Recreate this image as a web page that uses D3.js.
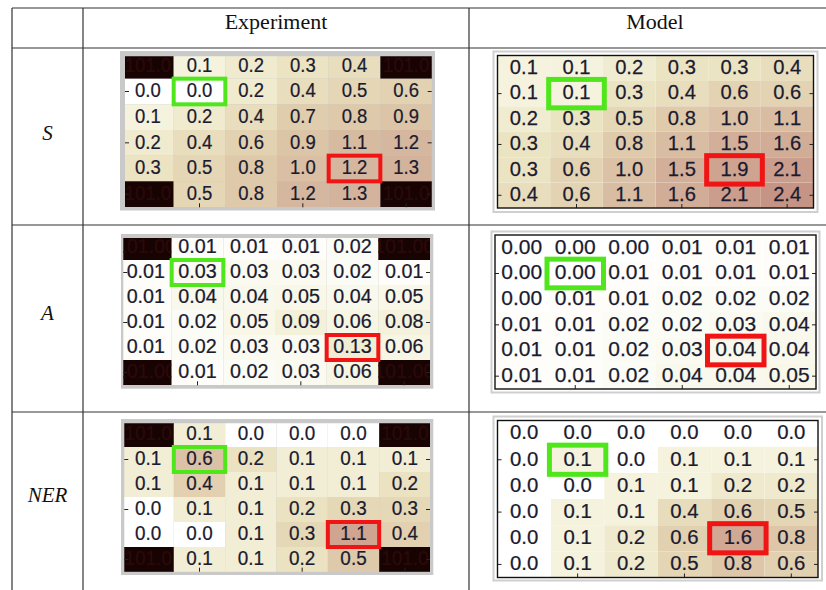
<!DOCTYPE html>
<html>
<head>
<meta charset="utf-8">
<script src="https://cdn.jsdelivr.net/npm/d3@7"></script>
<style>
  html, body { margin: 0; padding: 0; background: #fff; }
  svg { display: block; }
</style>
</head>
<body>
<svg id="chart" width="826" height="590"></svg>
<script>
// ---- Headings ----
const columnTitles = ["Experiment", "Model"];
const rowTitles = ["S", "A", "NER"];

// ---- 6x6 grids (rows top to bottom). 101 fills the unused corner positions of the measured grids ----
const sExperiment = [
  [101, 0.1, 0.2, 0.3, 0.4, 101],
  [0.0, 0.0, 0.2, 0.4, 0.5, 0.6],
  [0.1, 0.2, 0.4, 0.7, 0.8, 0.9],
  [0.2, 0.4, 0.6, 0.9, 1.1, 1.2],
  [0.3, 0.5, 0.8, 1.0, 1.2, 1.3],
  [101, 0.5, 0.8, 1.2, 1.3, 101]
];
const sModel = [
  [0.1, 0.1, 0.2, 0.3, 0.3, 0.4],
  [0.1, 0.1, 0.3, 0.4, 0.6, 0.6],
  [0.2, 0.3, 0.5, 0.8, 1.0, 1.1],
  [0.3, 0.4, 0.8, 1.1, 1.5, 1.6],
  [0.3, 0.6, 1.0, 1.5, 1.9, 2.1],
  [0.4, 0.6, 1.1, 1.6, 2.1, 2.4]
];
const aExperiment = [
  [101, 0.01, 0.01, 0.01, 0.02, 101],
  [0.01, 0.03, 0.03, 0.03, 0.02, 0.01],
  [0.01, 0.04, 0.04, 0.05, 0.04, 0.05],
  [0.01, 0.02, 0.05, 0.09, 0.06, 0.08],
  [0.01, 0.02, 0.03, 0.03, 0.13, 0.06],
  [101, 0.01, 0.02, 0.03, 0.06, 101]
];
const aModel = [
  [0.00, 0.00, 0.00, 0.01, 0.01, 0.01],
  [0.00, 0.00, 0.01, 0.01, 0.01, 0.01],
  [0.00, 0.01, 0.01, 0.02, 0.02, 0.02],
  [0.01, 0.01, 0.02, 0.02, 0.03, 0.04],
  [0.01, 0.01, 0.02, 0.03, 0.04, 0.04],
  [0.01, 0.01, 0.02, 0.04, 0.04, 0.05]
];
const nerExperiment = [
  [101, 0.1, 0.0, 0.0, 0.0, 101],
  [0.1, 0.6, 0.2, 0.1, 0.1, 0.1],
  [0.1, 0.4, 0.1, 0.1, 0.1, 0.2],
  [0.0, 0.1, 0.1, 0.2, 0.3, 0.3],
  [0.0, 0.0, 0.1, 0.3, 1.1, 0.4],
  [101, 0.1, 0.1, 0.2, 0.5, 101]
];
const nerModel = [
  [0.0, 0.0, 0.0, 0.0, 0.0, 0.0],
  [0.0, 0.1, 0.0, 0.1, 0.1, 0.1],
  [0.0, 0.0, 0.1, 0.1, 0.2, 0.2],
  [0.0, 0.1, 0.1, 0.4, 0.6, 0.5],
  [0.0, 0.1, 0.2, 0.6, 1.6, 0.8],
  [0.0, 0.1, 0.2, 0.5, 0.8, 0.6]
];

// Number format per table row, and upper end of each map's colour range
const valueFormats = [".1f", ".2f", ".1f"];
const colorMax = [[2.4, 2.5], [1.8, 1.8], [1.5, 2.3]];

// Cells outlined in every map: [row, column]
const greenCell = [1, 1];
const redCell = [4, 4];

// ---- Colour ramp (white -> tan -> dusty pink), values above the range turn near-black ----
const rampStops = [0, 0.04, 0.12, 0.22, 0.34, 0.5, 0.62, 0.8, 0.96, 1];
const rampColors = ["#ffffff", "#f5f3de", "#ebe4c3", "#e4d5b4", "#dec8aa",
                    "#d5b69e", "#d2ae98", "#cda08e", "#c69485", "#c49082"];
const overflowColor = "#180303";

// ---- Layout ----
const svg = d3.select("#chart");
const W = 826, H = 590;
const lineColor = "#333";

const grids = [[sExperiment, sModel], [aExperiment, aModel], [nerExperiment, nerModel]];

// Placement of each map: grid = cell area, clip = visible window, frame = surround,
// sx = horizontal squeeze of the cell numbers
const panelLayout = [
  { r: 0, c: 0, kind: "exp",   grid: [122, 53, 310, 154],       clip: [125, 56.3, 306.7, 151],     frame: [120, 51, 315, 159.5],   sx: 0.88 },
  { r: 0, c: 1, kind: "model", grid: [497.5, 55.5, 316, 152.5], clip: [497.5, 55.5, 316, 152.5],   frame: [493.5, 51.5, 324, 160.5], sx: 0.96 },
  { r: 1, c: 0, kind: "exp",   grid: [120, 235, 310, 150],      clip: [123.3, 238, 306.7, 147.3],  frame: [121, 234, 312.3, 154.7], sx: 0.94 },
  { r: 1, c: 1, kind: "model", grid: [495, 235, 321, 154],      clip: [495, 235, 321, 154],        frame: [491.5, 231.5, 328, 161], sx: 1.0 },
  { r: 2, c: 0, kind: "exp",   grid: [122.5, 422, 308, 150],    clip: [124.3, 423.3, 305.7, 148.4], frame: [121, 419, 312.3, 156], sx: 0.9 },
  { r: 2, c: 1, kind: "model", grid: [497.5, 420.5, 320.5, 157], clip: [497.5, 420.5, 320.5, 157], frame: [493.5, 416.5, 328.5, 164], sx: 0.97 }
];

// ---- Table rules ----
const rules = svg.append("g").attr("stroke", lineColor).attr("stroke-width", 1.2);
[8, 48, 225, 412].forEach(y => rules.append("line").attr("x1", 12).attr("x2", W).attr("y1", y).attr("y2", y));
[12, 83, 469].forEach(x => rules.append("line").attr("x1", x).attr("x2", x).attr("y1", 8).attr("y2", H));

// ---- Headings ----
const serif = "'Liberation Serif', 'Times New Roman', serif";
svg.selectAll("text.coltitle").data(columnTitles).join("text")
  .attr("class", "coltitle")
  .attr("x", (d, i) => [276, 655][i]).attr("y", 29)
  .attr("text-anchor", "middle")
  .attr("font-family", serif).attr("font-size", 22).attr("fill", "#111")
  .text(d => d);

svg.selectAll("text.rowtitle").data(rowTitles).join("text")
  .attr("class", "rowtitle")
  .attr("x", 47.5).attr("y", (d, i) => [139.5, 319.5, 501.5][i])
  .attr("text-anchor", "middle")
  .attr("font-family", serif).attr("font-style", "italic").attr("font-size", 21).attr("fill", "#111")
  .text(d => d);

// ---- Heat maps ----
const defs = svg.append("defs");
const sans = "'Liberation Sans', Arial, sans-serif";

panelLayout.forEach((p, pi) => {
  const data = grids[p.r][p.c];
  const vmax = colorMax[p.r][p.c];
  const fmt = d3.format(valueFormats[p.r]);
  const ramp = d3.scaleLinear()
    .domain(rampStops.map(s => s * vmax))
    .range(rampColors)
    .interpolate(d3.interpolateRgb)
    .clamp(true);
  const fill = v => (v > vmax ? overflowColor : ramp(v));

  const [gx, gy, gw, gh] = p.grid;
  const [cx, cy, cw, ch] = p.clip;
  const x = d3.scaleBand().domain(d3.range(6)).range([gx, gx + gw]);
  const y = d3.scaleBand().domain(d3.range(6)).range([gy, gy + gh]);
  const bw = x.bandwidth(), bh = y.bandwidth();

  const g = svg.append("g");

  // surround
  const [fx, fy, fw, fh] = p.frame;
  if (p.kind === "exp") {
    g.append("rect").attr("x", fx).attr("y", fy).attr("width", fw).attr("height", fh)
      .attr("fill", "#c9c9c9");
  } else {
    g.append("rect").attr("x", fx).attr("y", fy).attr("width", fw).attr("height", fh)
      .attr("fill", "#fff").attr("stroke", "#cfcfcf").attr("stroke-width", 2);
  }

  const clipId = "clip" + pi;
  defs.append("clipPath").attr("id", clipId)
    .append("rect").attr("x", cx).attr("y", cy).attr("width", cw).attr("height", ch);

  const cellsG = g.append("g").attr("clip-path", `url(#${clipId})`);
  const cells = data.flatMap((row, r) => row.map((v, c) => ({ r, c, v })));

  const cell = cellsG.selectAll("svg").data(cells).join("svg")
    .attr("x", d => x(d.c)).attr("y", d => y(d.r))
    .attr("width", bw).attr("height", bh)
    .attr("overflow", "hidden");

  cell.append("rect")
    .attr("width", bw).attr("height", bh)
    .attr("fill", d => fill(d.v))
    .attr("stroke", d => fill(d.v)).attr("stroke-width", 0.5);

  cell.append("text")
    .attr("transform", `translate(${bw / 2},${bh / 2 - 1.5}) scale(${p.sx},1)`)
    .attr("dy", "0.35em")
    .attr("text-anchor", "middle")
    .attr("font-family", sans).attr("font-size", 21)
    .attr("fill", d => (d.v > vmax ? "#2c0909" : "#1b1b30"))
    .attr("stroke", d => (d.v > vmax ? "#2c0909" : "#1b1b30"))
    .attr("stroke-width", 0.25)
    .text(d => fmt(d.v));

  // axis ticks on the left, right and bottom edges
  const ticks = g.append("g").attr("stroke", "#222").attr("stroke-width", 1);
  [1, 3, 5].forEach(r => {
    const ty = y(r) + bh / 2;
    ticks.append("line").attr("x1", cx).attr("x2", cx + 4).attr("y1", ty).attr("y2", ty);
    ticks.append("line").attr("x1", cx + cw - 4).attr("x2", cx + cw).attr("y1", ty).attr("y2", ty);
  });
  [1, 3, 5].forEach(c => {
    const tx = x(c) + bw / 2;
    ticks.append("line").attr("x1", tx).attr("x2", tx).attr("y1", cy + ch - 4).attr("y2", cy + ch);
  });

  if (p.kind === "model") {
    g.append("rect").attr("x", cx).attr("y", cy).attr("width", cw).attr("height", ch)
      .attr("fill", "none").attr("stroke", "#111").attr("stroke-width", 1.4);
  }

  // outlined cells
  const pad = p.kind === "model" ? 1.5 : 0;
  const sw = p.kind === "model" ? 5 : 4;
  [[greenCell, "#4fe61c"], [redCell, "#f01414"]].forEach(([[r, c], color]) => {
    g.append("rect")
      .attr("x", x(c) - pad).attr("y", y(r) - pad)
      .attr("width", bw + 2 * pad).attr("height", bh + 2 * pad)
      .attr("fill", "none").attr("stroke", color).attr("stroke-width", sw);
  });
});
</script>
</body>
</html>
